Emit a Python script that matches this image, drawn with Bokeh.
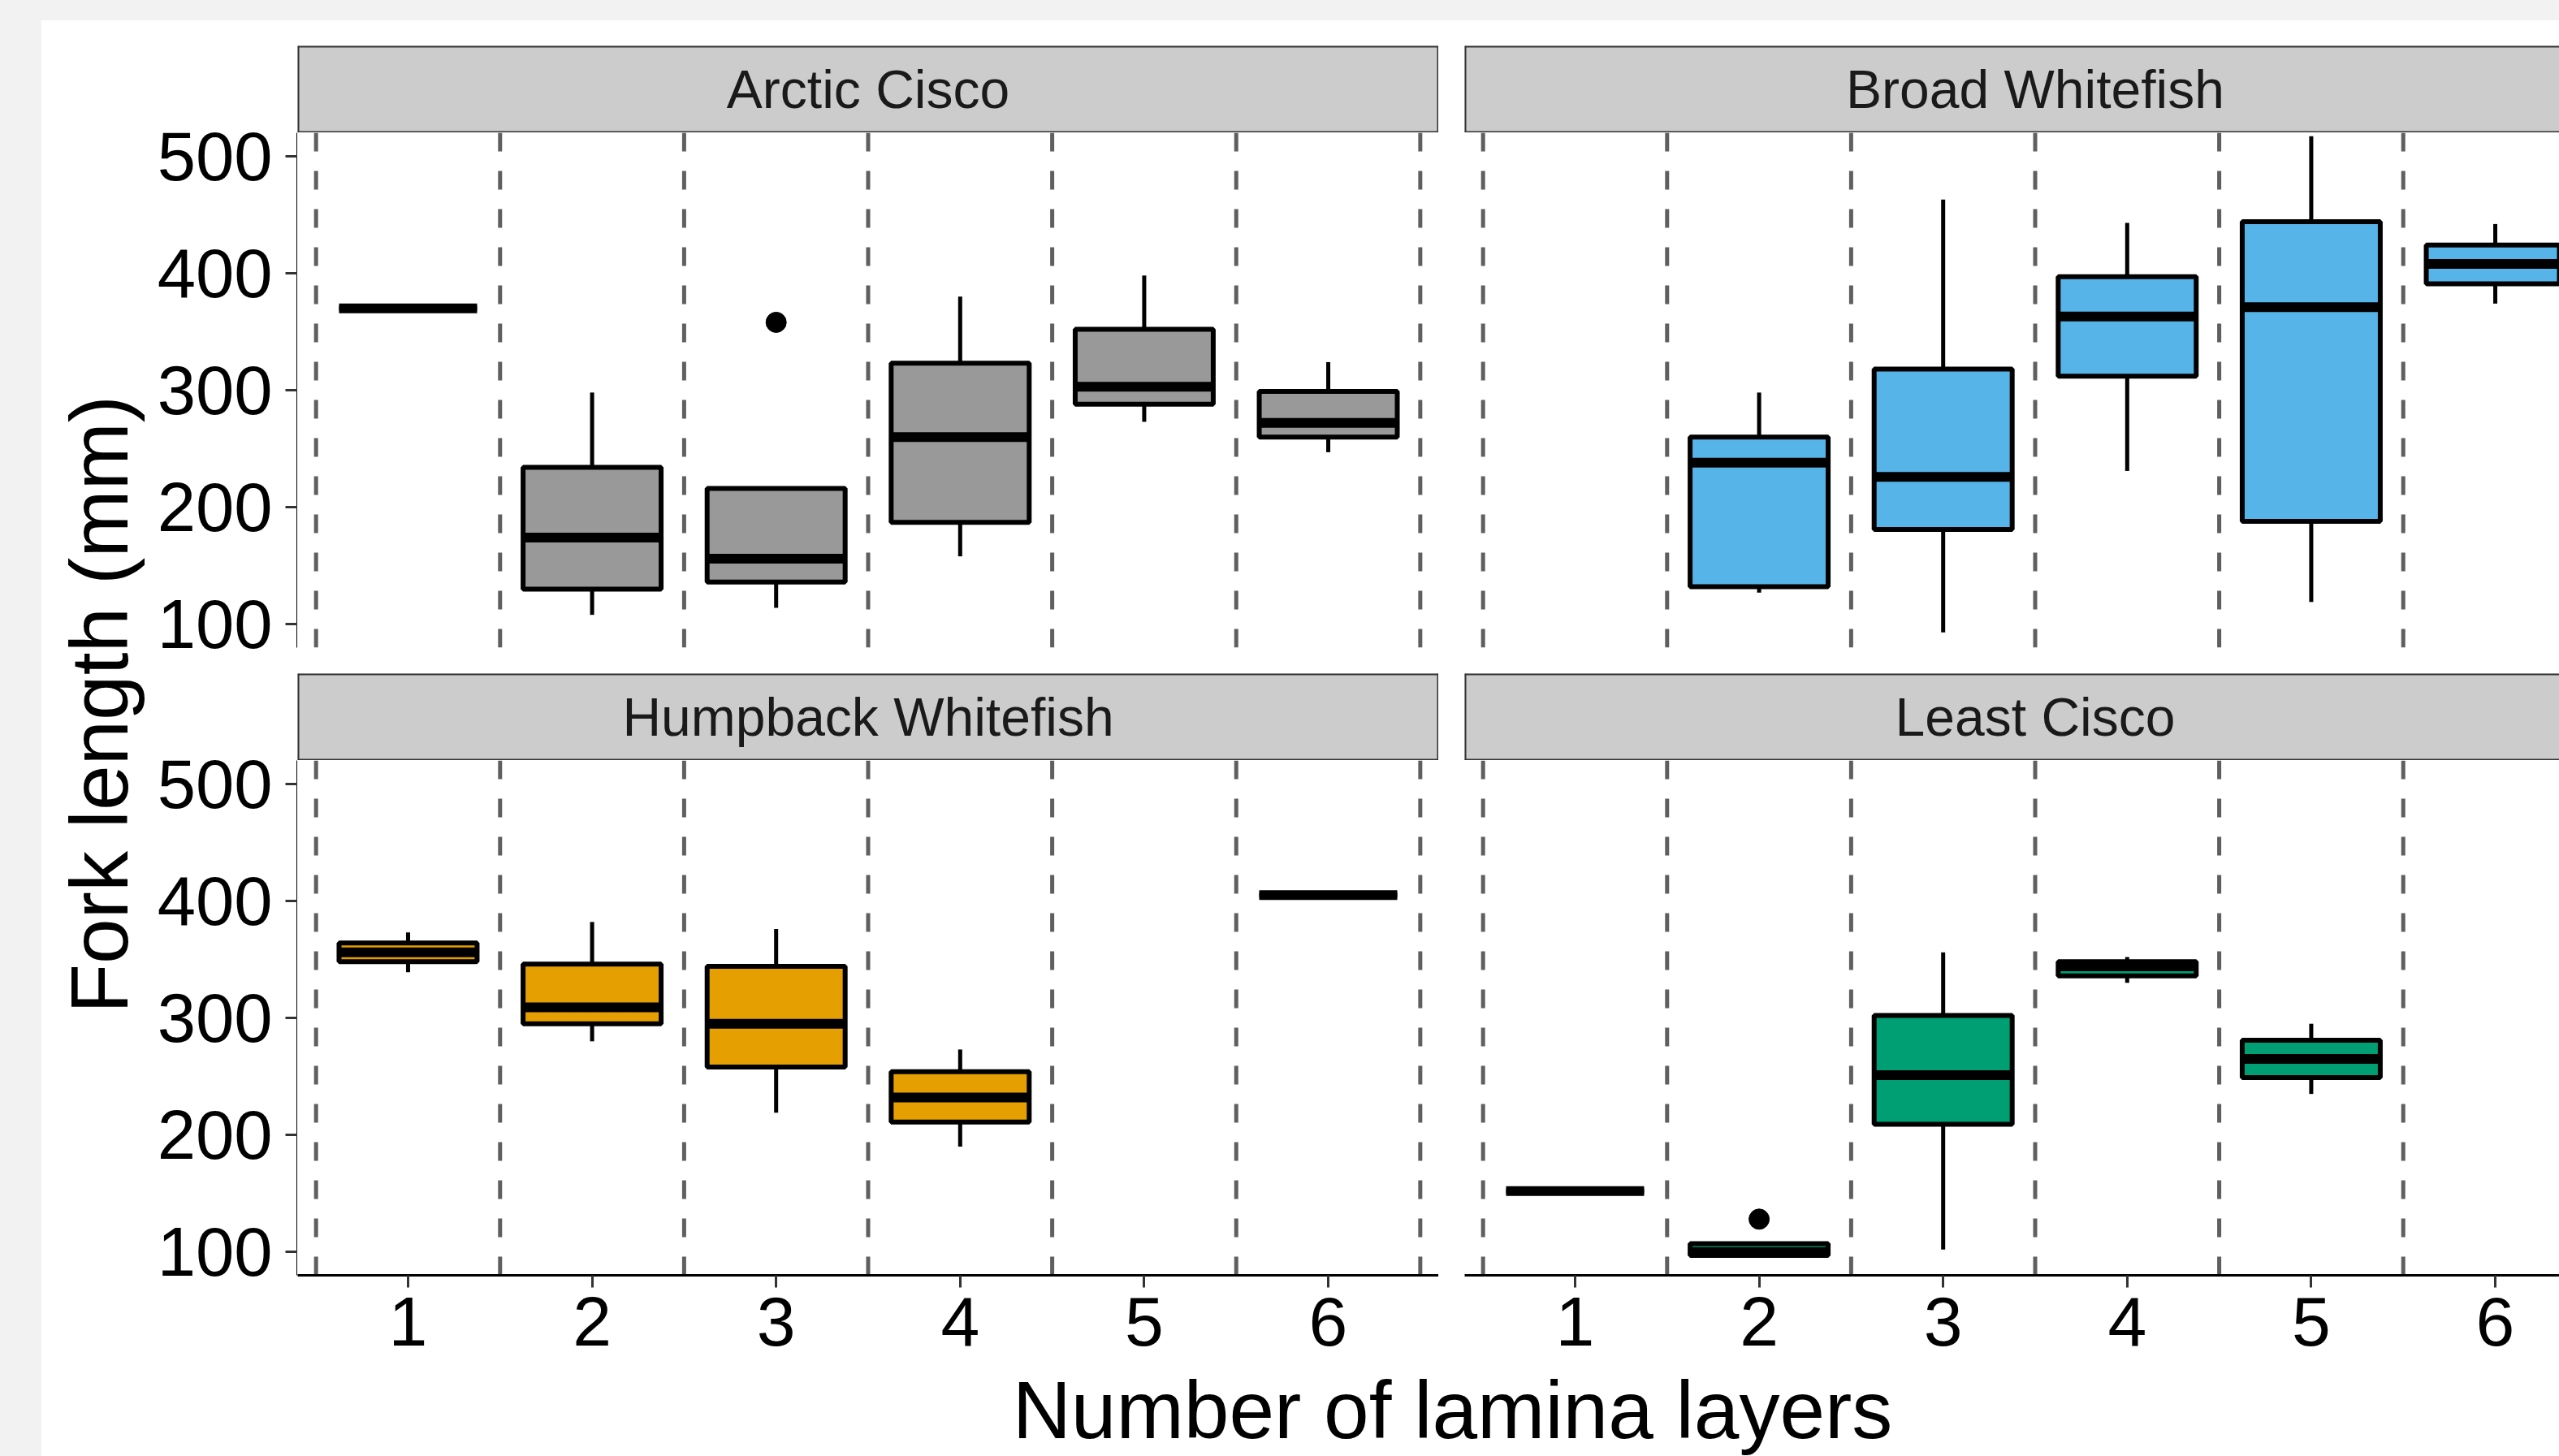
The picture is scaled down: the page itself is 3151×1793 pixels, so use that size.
import math
from bokeh.plotting import figure
from bokeh.models import Range1d, FixedTicker, Span, Label, Spacer
from bokeh.layouts import row, column
from bokeh.embed import file_html
from bokeh.resources import INLINE
from bokeh.core.validation import silence
from bokeh.core.validation.warnings import MISSING_RENDERERS

silence(MISSING_RENDERERS, True)

# ---------------- data ----------------
species = ["Arctic Cisco", "Broad Whitefish", "Humpback Whitefish", "Least Cisco"]
fill_colors = ["#999999", "#56B4E9", "#E69F00", "#009E73"]
layer_ticks = [1, 2, 3, 4, 5, 6]
fork_ticks = [100, 200, 300, 400, 500]

ac_layers = [1, 2, 3, 4, 5, 6]
ac_lower = [370, 108, 114, 158, 273, 247]
ac_q1 = [370, 130, 136, 187, 288, 260]
ac_median = [370, 174, 156, 260, 303, 272]
ac_q3 = [370, 234, 216, 323, 352, 299]
ac_upper = [370, 298, 216, 380, 398, 324]
ac_out_layer = [3]
ac_out_value = [358]

bw_layers = [2, 3, 4, 5, 6]
bw_lower = [127, 93, 231, 119, 374]
bw_q1 = [132, 181, 312, 188, 391]
bw_median = [238, 226, 363, 371, 408]
bw_q3 = [260, 318, 397, 444, 424]
bw_upper = [298, 463, 443, 517, 442]
bw_out_layer = []
bw_out_value = []

hw_layers = [1, 2, 3, 4, 6]
hw_lower = [339, 280, 219, 190, 405]
hw_q1 = [348, 295, 258, 211, 405]
hw_median = [356, 309, 295, 232, 405]
hw_q3 = [364, 346, 344, 254, 405]
hw_upper = [373, 382, 376, 273, 405]
hw_out_layer = []
hw_out_value = []

lc_layers = [1, 2, 3, 4, 5]
lc_lower = [152, 96, 102, 330, 235]
lc_q1 = [152, 97, 209, 336, 249]
lc_median = [152, 100, 251, 344, 265]
lc_q3 = [152, 107, 302, 348, 281]
lc_upper = [152, 108, 356, 352, 295]
lc_out_layer = [2]
lc_out_value = [128]

# ---------------- layout constants ----------------
FONT = "Liberation Sans"
Y_LO, Y_HI = 80, 520
X_LO, X_HI = 0.4, 6.6
BOX_W = 0.75
FRAME_W = 1405
RIGHT_VISIBLE = 1348
FRAME_H = 634
LEFT_B = 176
GAP = 32
BOTTOM_B = 108
STRIP_H = 107
PAD_TOP = 31
GREY = "#f2f2f2"
TOTAL_W = 3151
TOTAL_H = 1793
GREY_TOP = 25
GREY_LEFT = 51

x_left = Range1d(X_LO, X_HI)
x_right = Range1d(X_LO, X_LO + (X_HI - X_LO) * RIGHT_VISIBLE / FRAME_W)


def style_yaxis(p):
    for ax in p.yaxis:
        ax.ticker = FixedTicker(ticks=fork_ticks)
        ax.major_label_text_font = FONT
        ax.major_label_text_font_size = "85px"
        ax.major_label_text_color = "black"
        ax.axis_line_color = "black"
        ax.axis_line_width = 3
        ax.major_tick_line_color = "#333333"
        ax.major_tick_line_width = 3
        ax.major_tick_in = 0
        ax.major_tick_out = 15
        ax.minor_tick_line_color = None
        ax.major_label_standoff = 16


def style_xaxis(p):
    for ax in p.xaxis:
        ax.ticker = FixedTicker(ticks=layer_ticks)
        ax.major_label_text_font = FONT
        ax.major_label_text_font_size = "86px"
        ax.major_label_text_color = "black"
        ax.axis_line_color = "black"
        ax.axis_line_width = 3
        ax.major_tick_line_color = "#333333"
        ax.major_tick_line_width = 3
        ax.major_tick_in = 0
        ax.major_tick_out = 15
        ax.minor_tick_line_color = None
        ax.major_label_standoff = 12


def panel(layers, lower, q1, med, q3, upper, out_x, out_y, color, xr,
          width, height, mb_left, mb_bottom, show_x):
    p = figure(width=width, height=height, x_range=xr, y_range=Range1d(Y_LO, Y_HI),
               output_backend="svg", toolbar_location=None,
               min_border_left=mb_left, min_border_right=0, min_border_top=0,
               min_border_bottom=mb_bottom,
               x_axis_location="below" if show_x else None, y_axis_location=None,
               outline_line_color=None, background_fill_color="white",
               border_fill_color="white")
    p.xgrid.visible = False
    p.ygrid.visible = False
    seps = [k + 0.5 for k in range(0, 7)]
    p.segment(x0=seps, x1=seps, y0=[Y_LO] * len(seps), y1=[Y_HI] * len(seps),
              line_color="#5f5f5f", line_width=5, line_dash="23 24")
    p.segment(x0=layers, x1=layers, y0=q3, y1=upper, line_color="black", line_width=5)
    p.segment(x0=layers, x1=layers, y0=lower, y1=q1, line_color="black", line_width=5)
    p.vbar(x=layers, width=BOX_W, bottom=q1, top=q3, fill_color=color,
           line_color="black", line_width=6)
    p.segment(x0=[x - BOX_W / 2 for x in layers], x1=[x + BOX_W / 2 for x in layers],
              y0=med, y1=med, line_color="black", line_width=12)
    if out_x:
        p.scatter(x=out_x, y=out_y, size=25, color="black")
    style_xaxis(p)
    return p


def yaxis_fig(height, mb_top, mb_bottom):
    f = figure(width=LEFT_B, height=height, x_range=Range1d(0, 1), y_range=Range1d(Y_LO, Y_HI),
               output_backend="svg", toolbar_location=None,
               min_border_left=LEFT_B - 1, min_border_right=0,
               min_border_top=mb_top, min_border_bottom=mb_bottom,
               x_axis_location=None, y_axis_location="left", outline_line_color=None,
               background_fill_color="white", border_fill_color="white")
    f.xgrid.visible = False
    f.ygrid.visible = False
    style_yaxis(f)
    return f


def strip(name, xr, width, right_edge):
    s = figure(width=width, height=STRIP_H, x_range=xr, y_range=Range1d(0, 1),
               output_backend="svg", toolbar_location=None, min_border=0,
               x_axis_location=None, y_axis_location=None, outline_line_color=None,
               background_fill_color="#cccccc", border_fill_color="#cccccc")
    s.xgrid.visible = False
    s.ygrid.visible = False
    for loc in (0, 1):
        s.add_layout(Span(location=loc, dimension="width", line_color="#333333", line_width=4))
    s.add_layout(Span(location=X_LO, dimension="height", line_color="#333333", line_width=4))
    if right_edge:
        s.add_layout(Span(location=X_HI, dimension="height", line_color="#333333", line_width=4))
    s.add_layout(Label(x=(X_LO + X_HI) / 2, y=0.5, text=name, text_align="center",
                       text_baseline="middle", text_font=FONT, text_font_size="66px",
                       text_color="#1a1a1a"))
    return s


def text_fig(width, height):
    f = figure(width=width, height=height, x_range=Range1d(0, width), y_range=Range1d(0, height),
               output_backend="svg", toolbar_location=None, min_border=0,
               x_axis_location=None, y_axis_location=None, outline_line_color=None,
               background_fill_color="white", border_fill_color="white")
    f.xgrid.visible = False
    f.ygrid.visible = False
    return f


W_RIGHT = GAP + RIGHT_VISIBLE
H_TOP = FRAME_H + GAP
H_BOT = FRAME_H + BOTTOM_B

p_ac = panel(ac_layers, ac_lower, ac_q1, ac_median, ac_q3, ac_upper, ac_out_layer, ac_out_value,
             fill_colors[0], x_left, FRAME_W, H_TOP, 0, GAP, False)
p_bw = panel(bw_layers, bw_lower, bw_q1, bw_median, bw_q3, bw_upper, bw_out_layer, bw_out_value,
             fill_colors[1], x_right, W_RIGHT, H_TOP, GAP, GAP, False)
p_hw = panel(hw_layers, hw_lower, hw_q1, hw_median, hw_q3, hw_upper, hw_out_layer, hw_out_value,
             fill_colors[2], x_left, FRAME_W, H_BOT, 0, BOTTOM_B, True)
p_lc = panel(lc_layers, lc_lower, lc_q1, lc_median, lc_q3, lc_upper, lc_out_layer, lc_out_value,
             fill_colors[3], x_right, W_RIGHT, H_BOT, GAP, BOTTOM_B, True)

s_ac = strip(species[0], x_left, FRAME_W, True)
s_bw = strip(species[1], x_right, RIGHT_VISIBLE, False)
s_hw = strip(species[2], x_left, FRAME_W, True)
s_lc = strip(species[3], x_right, RIGHT_VISIBLE, False)

MAIN_H = TOTAL_H - GREY_TOP
PANELS_W = FRAME_W + W_RIGHT
YT_W = TOTAL_W - GREY_LEFT - LEFT_B - PANELS_W
YAX_TOP_H = PAD_TOP + STRIP_H + H_TOP
YAX_BOT_H = STRIP_H + H_BOT
XT_H = MAIN_H - YAX_TOP_H - YAX_BOT_H

yax_top = yaxis_fig(YAX_TOP_H, PAD_TOP + STRIP_H, GAP)
yax_bot = yaxis_fig(YAX_BOT_H, STRIP_H, BOTTOM_B)

yt = text_fig(YT_W, MAIN_H)
yt.add_layout(Label(x=121 - GREY_LEFT, y=TOTAL_H - 867, angle=math.pi / 2, text="Fork length (mm)",
                    text_align="center", text_baseline="middle", text_font=FONT,
                    text_font_size="100px", text_color="black"))

panels_left = GREY_LEFT + YT_W + LEFT_B
xt = text_fig(PANELS_W, XT_H)
xt.add_layout(Label(x=1788 - panels_left, y=TOTAL_H - 1735, text="Number of lamina layers",
                    text_align="center", text_baseline="middle", text_font=FONT,
                    text_font_size="100px", text_color="black"))

ycol = column(yax_top, yax_bot, Spacer(width=LEFT_B, height=XT_H))
pcol = column(
    Spacer(width=PANELS_W, height=PAD_TOP),
    row(s_ac, Spacer(width=GAP, height=STRIP_H), s_bw),
    row(p_ac, p_bw),
    row(s_hw, Spacer(width=GAP, height=STRIP_H), s_lc),
    row(p_hw, p_lc),
    xt,
)

left_grey = Spacer(width=GREY_LEFT, height=MAIN_H, styles={"background-color": GREY})
top_grey = Spacer(width=TOTAL_W, height=GREY_TOP, styles={"background-color": GREY})

root = column(top_grey, row(left_grey, yt, ycol, pcol))

html = file_html(root, INLINE)
open("out.html", "w").write(html)
